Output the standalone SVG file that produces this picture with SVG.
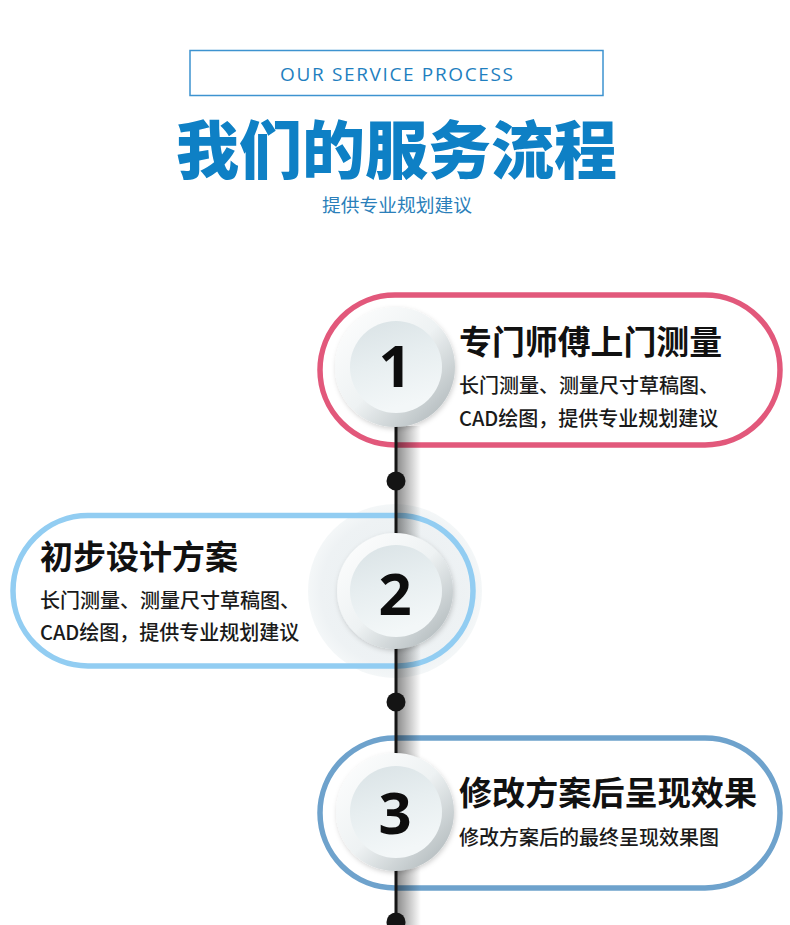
<svg xmlns="http://www.w3.org/2000/svg" width="790" height="925" viewBox="0 0 790 925">
<defs>
<style>
.cjk{font-family:"Noto Sans CJK SC","Noto Sans",sans-serif;}
.ttl{font-family:"Noto Sans CJK SC","Noto Sans",sans-serif;font-weight:700;font-size:33px;fill:#111;}
.sub{font-family:"Noto Sans CJK SC","Noto Sans",sans-serif;font-weight:500;font-size:20px;fill:#1a1a1a;}
.num{font-family:"Noto Sans","Liberation Sans",sans-serif;font-weight:700;font-size:58px;fill:#0d0d0d;text-anchor:middle;}
.pill{fill:none;stroke-width:5.5;}
.ring{fill:url(#ringG);filter:url(#sh);}
.disk{fill:url(#diskG);}
.dot{fill:#141414;}
</style>
<linearGradient id="ringG" x1="0" y1="0" x2="1" y2="1">
<stop offset="0" stop-color="#ffffff"/>
<stop offset="0.5" stop-color="#eef2f3"/>
<stop offset="1" stop-color="#a6afb2"/>
</linearGradient>
<linearGradient id="diskG" x1="0" y1="0" x2="0.3" y2="1">
<stop offset="0" stop-color="#d9e2e5"/>
<stop offset="0.5" stop-color="#e7eef0"/>
<stop offset="1" stop-color="#f3f7f8"/>
</linearGradient>
<linearGradient id="lineSh" x1="0" y1="0" x2="1" y2="0">
<stop offset="0" stop-color="#000" stop-opacity="0.45"/>
<stop offset="1" stop-color="#000" stop-opacity="0"/>
</linearGradient>
<radialGradient id="haloG">
<stop offset="0" stop-color="#e8eef0"/>
<stop offset="0.85" stop-color="#eef2f4"/>
<stop offset="1" stop-color="#f4f7f8"/>
</radialGradient>
<filter id="sh" x="-30%" y="-30%" width="160%" height="160%">
<feDropShadow dx="1" dy="2" stdDeviation="2.5" flood-color="#000" flood-opacity="0.18"/>
</filter>
</defs>
<rect width="790" height="925" fill="#fff"/>

<g id="header">
<rect x="190" y="50.5" width="413" height="45" fill="none" stroke="#3d93d0" stroke-width="1.5"/>
<text x="396.5" y="81" text-anchor="middle" font-family="Open Sans, Lato, sans-serif" font-size="19" fill="#1f7fc0" textLength="233" lengthAdjust="spacing">OUR SERVICE PROCESS</text>
<text x="396.5" y="173" text-anchor="middle" class="cjk" font-weight="900" font-size="63" fill="#0e80c5" textLength="441" lengthAdjust="spacingAndGlyphs">我们的服务流程</text>
<text x="397" y="212" text-anchor="middle" class="cjk" font-size="18" fill="#2b7fba" textLength="150" lengthAdjust="spacingAndGlyphs">提供专业规划建议</text>
</g>

<circle cx="395" cy="591" r="87" fill="url(#haloG)"/>

<g id="pills">
<rect class="pill" x="320" y="295" width="460" height="150" rx="75" stroke="#e2587b"/>
<rect class="pill" x="13" y="515.5" width="460" height="150.5" rx="75" stroke="#92cdf2"/>
<rect class="pill" x="320" y="738" width="460" height="150" rx="75" stroke="#6ea2cc"/>
</g>

<g id="connectors">
<rect x="397" y="426" width="24" height="499" fill="url(#lineSh)"/>
<line x1="396" y1="426" x2="396" y2="925" stroke="#141414" stroke-width="3"/>
<circle class="dot" cx="396" cy="481" r="9.5"/>
<circle class="dot" cx="396" cy="702" r="9.5"/>
<circle class="dot" cx="396" cy="922" r="9.5"/>
</g>

<g id="step1">
<circle class="ring" cx="395" cy="367" r="60"/>
<circle class="disk" cx="396" cy="367" r="46"/>
<text class="num" x="395" y="387">1</text>
<text class="ttl" x="459" y="354" textLength="263" lengthAdjust="spacingAndGlyphs">专门师傅上门测量</text>
<text class="sub" x="459" y="393">长门测量、测量尺寸草稿图、</text>
<text class="sub" x="459" y="426">CAD绘图，提供专业规划建议</text>
</g>

<g id="step2">
<circle class="ring" cx="395" cy="591" r="58"/>
<circle class="disk" cx="396" cy="591" r="46"/>
<text class="num" x="395" y="615">2</text>
<text class="ttl" x="40" y="569" textLength="198" lengthAdjust="spacingAndGlyphs">初步设计方案</text>
<text class="sub" x="40" y="608">长门测量、测量尺寸草稿图、</text>
<text class="sub" x="40" y="640">CAD绘图，提供专业规划建议</text>
</g>

<g id="step3">
<circle class="ring" cx="395" cy="812" r="59"/>
<circle class="disk" cx="396" cy="812" r="46"/>
<text class="num" x="395" y="834">3</text>
<text class="ttl" x="459" y="805" textLength="298" lengthAdjust="spacingAndGlyphs">修改方案后呈现效果</text>
<text class="sub" x="459" y="845">修改方案后的最终呈现效果图</text>
</g>
</svg>
